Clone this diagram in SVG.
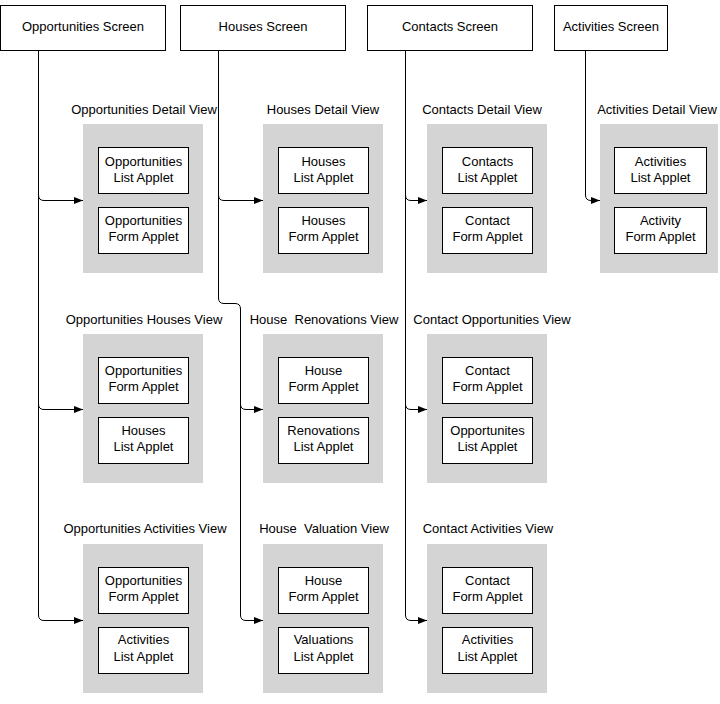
<svg xmlns="http://www.w3.org/2000/svg" width="720" height="704" viewBox="0 0 720 704">
<defs>
<style>
.scr{fill:#fff;stroke:#000;stroke-width:1}
.view{fill:#d4d4d4;stroke:none}
.app{fill:#fff;stroke:#000;stroke-width:1}
text{font-family:"Liberation Sans",Arial,sans-serif;font-size:13px;fill:#000;text-anchor:middle}
.conn path{fill:none;stroke:#000;stroke-width:1}
</style>
<marker id="arr" markerUnits="userSpaceOnUse" markerWidth="9" markerHeight="8" refX="9" refY="4" orient="auto">
<path d="M0,0.5 L9,4 L0,7.5 z" fill="#000"/>
</marker>
</defs>
<rect width="720" height="704" fill="#fff"/>

<g id="opp-screen"><rect class="scr" x="0.5" y="5.5" width="165" height="45"/><text x="83" y="31">Opportunities Screen</text></g>
<g id="houses-screen"><rect class="scr" x="180.5" y="5.5" width="165" height="45"/><text x="263" y="31">Houses Screen</text></g>
<g id="contacts-screen"><rect class="scr" x="367.5" y="5.5" width="165" height="45"/><text x="450" y="31">Contacts Screen</text></g>
<g id="activities-screen"><rect class="scr" x="554.5" y="5.5" width="113" height="45"/><text x="611" y="31">Activities Screen</text></g>

<g class="conn" id="connectors">
<path d="M38.5,50.5 V615 Q38.5,620.5 44,620.5 H83" marker-end="url(#arr)"/>
<path d="M38.5,195 Q38.5,200.5 44,200.5 H83" marker-end="url(#arr)"/>
<path d="M38.5,404 Q38.5,409.5 44,409.5 H83" marker-end="url(#arr)"/>
<path d="M218.5,50.5 V298 Q218.5,303.5 224,303.5 H235 Q240.5,303.5 240.5,309 V615 Q240.5,620.5 246,620.5 H263" marker-end="url(#arr)"/>
<path d="M218.5,195 Q218.5,200.5 224,200.5 H263" marker-end="url(#arr)"/>
<path d="M240.5,404 Q240.5,409.5 246,409.5 H263" marker-end="url(#arr)"/>
<path d="M405.5,50.5 V615 Q405.5,620.5 411,620.5 H427" marker-end="url(#arr)"/>
<path d="M405.5,195 Q405.5,200.5 411,200.5 H427" marker-end="url(#arr)"/>
<path d="M405.5,404 Q405.5,409.5 411,409.5 H427" marker-end="url(#arr)"/>
<path d="M585.5,50.5 V195 Q585.5,200.5 591,200.5 H600" marker-end="url(#arr)"/>
</g>

<g id="opp-detail-view">
<text x="144" y="114">Opportunities Detail View</text>
<rect class="view" x="83" y="124" width="120" height="149"/>
<rect class="app" x="98.5" y="147.5" width="90" height="46"/><text x="143.5" y="166">Opportunities</text><text x="143.5" y="182">List Applet</text>
<rect class="app" x="98.5" y="207.5" width="90" height="46"/><text x="143.5" y="225">Opportunities</text><text x="143.5" y="241">Form Applet</text>
</g>
<g id="opp-houses-view">
<text x="144" y="324">Opportunities Houses View</text>
<rect class="view" x="83" y="334" width="120" height="149"/>
<rect class="app" x="98.5" y="357.5" width="90" height="46"/><text x="143.5" y="375">Opportunities</text><text x="143.5" y="391">Form Applet</text>
<rect class="app" x="98.5" y="417.5" width="90" height="46"/><text x="143.5" y="435">Houses</text><text x="143.5" y="451">List Applet</text>
</g>
<g id="opp-activities-view">
<text x="145" y="533">Opportunities Activities View</text>
<rect class="view" x="83" y="544" width="120" height="149"/>
<rect class="app" x="98.5" y="567.5" width="90" height="46"/><text x="143.5" y="585">Opportunities</text><text x="143.5" y="601">Form Applet</text>
<rect class="app" x="98.5" y="627.5" width="90" height="46"/><text x="143.5" y="644">Activities</text><text x="143.5" y="661">List Applet</text>
</g>

<g id="houses-detail-view">
<text x="323" y="114">Houses Detail View</text>
<rect class="view" x="263" y="124" width="120" height="149"/>
<rect class="app" x="278.5" y="147.5" width="90" height="46"/><text x="323.5" y="166">Houses</text><text x="323.5" y="182">List Applet</text>
<rect class="app" x="278.5" y="207.5" width="90" height="46"/><text x="323.5" y="225">Houses</text><text x="323.5" y="241">Form Applet</text>
</g>
<g id="house-renovations-view">
<text x="324" y="324" xml:space="preserve">House  Renovations View</text>
<rect class="view" x="263" y="334" width="120" height="149"/>
<rect class="app" x="278.5" y="357.5" width="90" height="46"/><text x="323.5" y="375">House</text><text x="323.5" y="391">Form Applet</text>
<rect class="app" x="278.5" y="417.5" width="90" height="46"/><text x="323.5" y="435">Renovations</text><text x="323.5" y="451">List Applet</text>
</g>
<g id="house-valuation-view">
<text x="324" y="533" xml:space="preserve">House  Valuation View</text>
<rect class="view" x="263" y="544" width="120" height="149"/>
<rect class="app" x="278.5" y="567.5" width="90" height="46"/><text x="323.5" y="585">House</text><text x="323.5" y="601">Form Applet</text>
<rect class="app" x="278.5" y="627.5" width="90" height="46"/><text x="323.5" y="644">Valuations</text><text x="323.5" y="661">List Applet</text>
</g>

<g id="contacts-detail-view">
<text x="482" y="114">Contacts Detail View</text>
<rect class="view" x="427" y="124" width="120" height="149"/>
<rect class="app" x="442.5" y="147.5" width="90" height="46"/><text x="487.5" y="166">Contacts</text><text x="487.5" y="182">List Applet</text>
<rect class="app" x="442.5" y="207.5" width="90" height="46"/><text x="487.5" y="225">Contact</text><text x="487.5" y="241">Form Applet</text>
</g>
<g id="contact-opportunities-view">
<text x="492" y="324">Contact Opportunities View</text>
<rect class="view" x="427" y="334" width="120" height="149"/>
<rect class="app" x="442.5" y="357.5" width="90" height="46"/><text x="487.5" y="375">Contact</text><text x="487.5" y="391">Form Applet</text>
<rect class="app" x="442.5" y="417.5" width="90" height="46"/><text x="487.5" y="435">Opportunites</text><text x="487.5" y="451">List Applet</text>
</g>
<g id="contact-activities-view">
<text x="488" y="533">Contact Activities View</text>
<rect class="view" x="427" y="544" width="120" height="149"/>
<rect class="app" x="442.5" y="567.5" width="90" height="46"/><text x="487.5" y="585">Contact</text><text x="487.5" y="601">Form Applet</text>
<rect class="app" x="442.5" y="627.5" width="90" height="46"/><text x="487.5" y="644">Activities</text><text x="487.5" y="661">List Applet</text>
</g>

<g id="activities-detail-view">
<text x="657" y="114">Activities Detail View</text>
<rect class="view" x="600" y="124" width="118" height="149"/>
<rect class="app" x="614.5" y="147.5" width="92" height="46"/><text x="660.5" y="166">Activities</text><text x="660.5" y="182">List Applet</text>
<rect class="app" x="614.5" y="207.5" width="92" height="46"/><text x="660.5" y="225">Activity</text><text x="660.5" y="241">Form Applet</text>
</g>
</svg>
